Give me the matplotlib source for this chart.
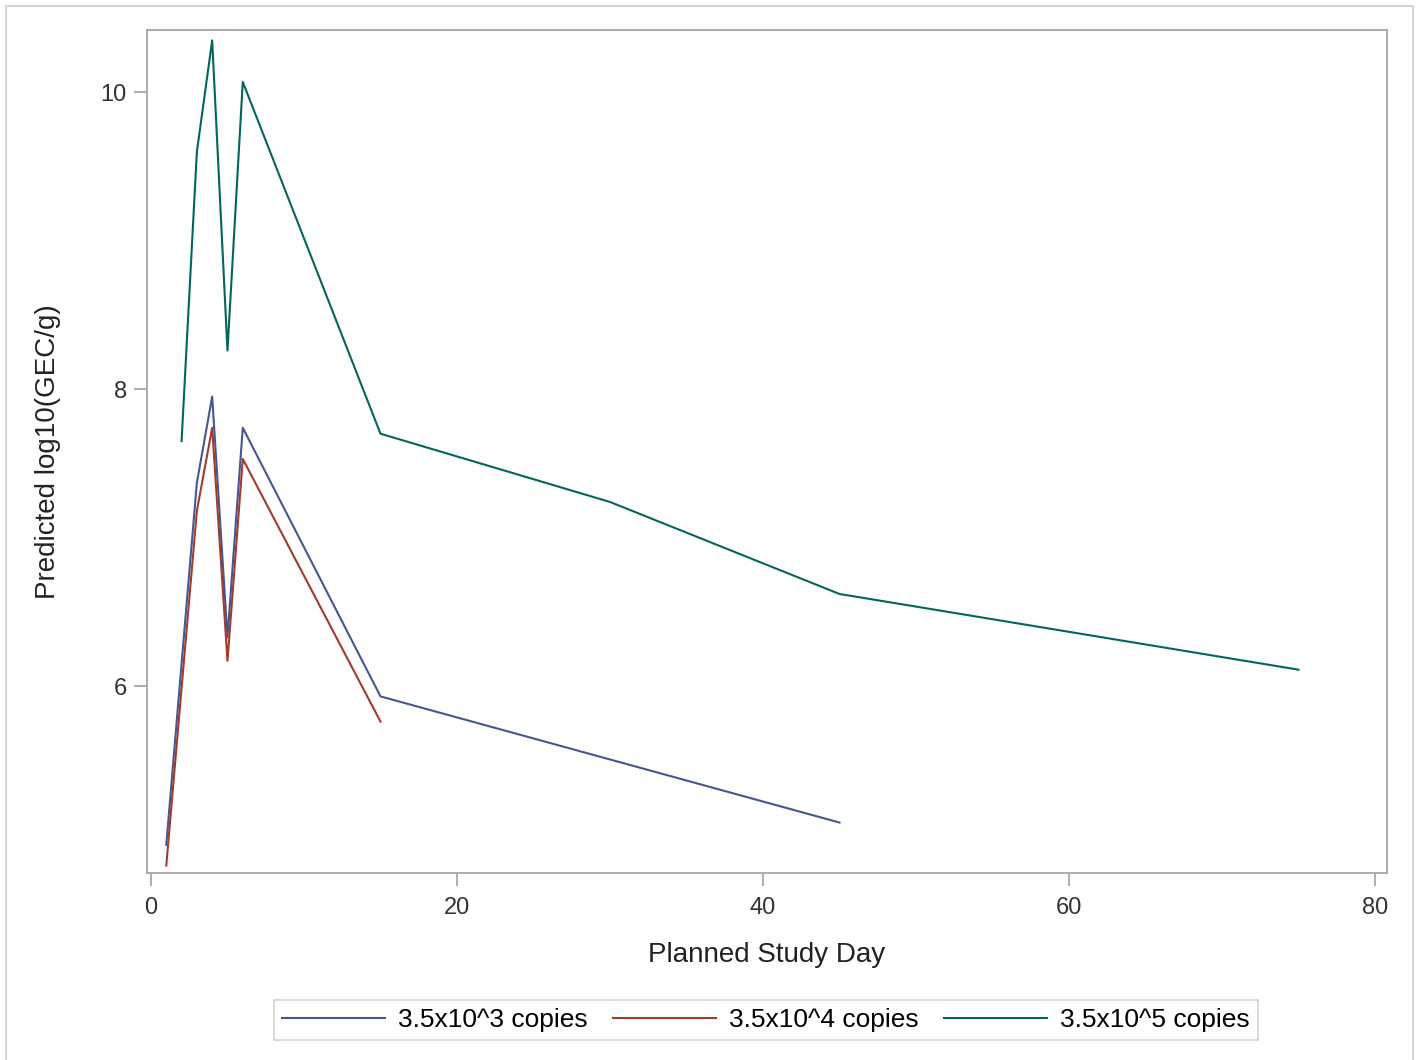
import matplotlib.pyplot as plt
from matplotlib.patches import Rectangle

plt.rcParams['font.family'] = ['Liberation Sans', 'DejaVu Sans']

# predicted values per dose group
days_3 = [1, 3, 4, 5, 6, 15, 45]
pred_3 = [4.93, 7.37, 7.95, 6.33, 7.74, 5.93, 5.08]

days_4 = [1, 3, 4, 5, 6, 15]
pred_4 = [4.79, 7.18, 7.74, 6.17, 7.53, 5.76]

days_5 = [2, 3, 4, 5, 6, 15, 30, 45, 75]
pred_5 = [7.65, 9.60, 10.35, 8.26, 10.07, 7.70, 7.24, 6.62, 6.11]

labels = ['3.5x10^3 copies', '3.5x10^4 copies', '3.5x10^5 copies']
colors = ['#445694', '#A23A2E', '#01665E']

fig = plt.figure(figsize=(14.23, 10.6), dpi=100)
ax = fig.add_axes([0.1033, 0.1764, 0.8714, 0.7953])

for d, p, lab, c in zip([days_3, days_4, days_5], [pred_3, pred_4, pred_5], labels, colors):
    ax.plot(d, p, color=c, lw=1.5, label=lab)

ax.set_xlim(-0.26, 80.78)
ax.set_ylim(4.74, 10.42)
ax.set_xticks([0, 20, 40, 60, 80])
ax.set_yticks([6, 8, 10])

frame = '#A6A6A6'
for s in ax.spines.values():
    s.set_color(frame)
    s.set_linewidth(1.3)
ax.tick_params(colors=frame, labelcolor='#333333', labelsize=17, length=9.5, width=1.3)
ax.tick_params(axis='x', pad=8)
ax.tick_params(axis='y', pad=5)

ax.set_xlabel('Planned Study Day', fontsize=20, color='#222222', va='center')
ax.set_ylabel('Predicted log10(GEC/g)', fontsize=20, color='#222222', va='center')
ax.xaxis.set_label_coords(0.5, -0.097)
ax.yaxis.set_label_coords(-0.080, 0.5)

leg = fig.legend(loc='center', bbox_to_anchor=(0.5383, 0.0377), ncol=3, fontsize=19,
                 frameon=True, fancybox=False, handlelength=3.9, columnspacing=0.95,
                 handletextpad=0.5, borderpad=0.3, borderaxespad=0)
leg.get_frame().set_edgecolor('#C8C8C8')
leg.get_frame().set_linewidth(1.2)

# outer border of the graph area
fig.patches.append(Rectangle((6 / 1423, -0.01), (1413 - 6) / 1423, 1 - 6 / 1060 + 0.01,
                             transform=fig.transFigure, fill=False,
                             edgecolor='#D4D4D4', lw=1.5))

plt.savefig('out.png', dpi=100)
